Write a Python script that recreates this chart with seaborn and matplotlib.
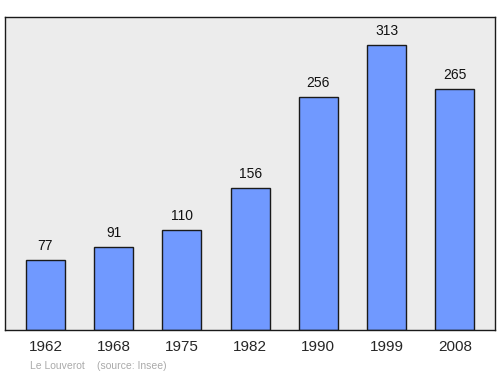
import matplotlib
matplotlib.use('Agg')
import matplotlib.pyplot as plt
import pandas as pd
import seaborn as sns

years = ['1962', '1968', '1975', '1982', '1990', '1999', '2008']
population = [77, 91, 110, 156, 256, 313, 265]

doc = pd.DataFrame({'year': years, 'population': population})

sns.set_style('white')
plt.rcParams['font.family'] = ['Liberation Sans', 'DejaVu Sans']

fig = plt.figure(figsize=(5, 3.74), dpi=100)
ax = fig.add_axes([0.01, 0.1176, 0.98, 0.837])
ax.set_facecolor('#ececec')

sns.barplot(x='year', y='population', data=doc, ax=ax, color='#7099ff',
            saturation=1, edgecolor='#1a1a1a', linewidth=1, width=0.57)

# value labels above bars
for i, v in enumerate(population):
    ax.text(i, v + 8, str(v), ha='center', va='bottom', fontsize=10, color='#111111')

ax.set_xlim(-0.593, 6.59)
ax.set_ylim(0, 344)
ax.set_yticks([])
ax.set_xlabel('')
ax.set_ylabel('')
ax.tick_params(axis='x', length=0, labelsize=11, pad=7)
for s in ax.spines.values():
    s.set_color('#1a1a1a')
    s.set_linewidth(1)

fig.text(0.06, 0.014, 'Le Louverot', fontsize=7.5, color='#aaaaaa')
fig.text(0.194, 0.014, '(source: Insee)', fontsize=7.5, color='#aaaaaa')

fig.savefig('out.png', dpi=100)
